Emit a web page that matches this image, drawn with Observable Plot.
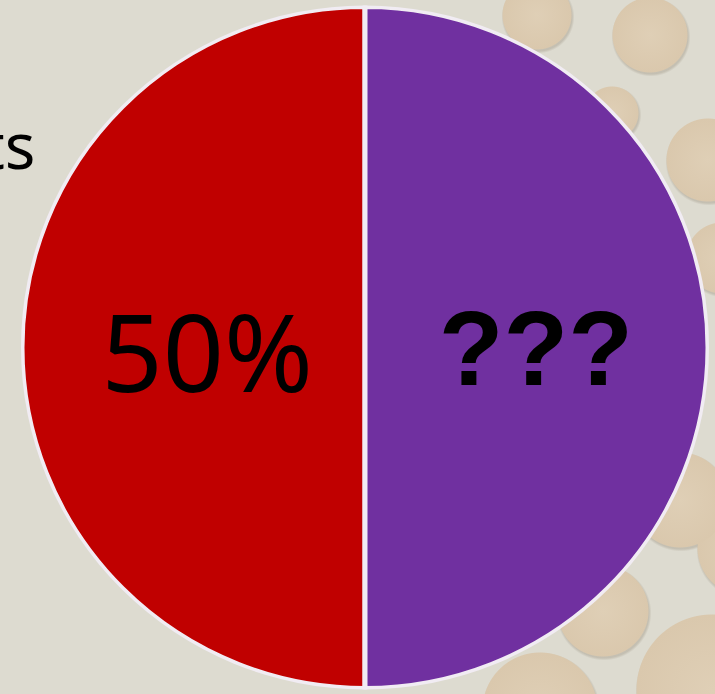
<!DOCTYPE html>
<html>
<head>
<meta charset="utf-8">
<script src="https://cdn.jsdelivr.net/npm/d3@7"></script>
<script src="https://cdn.jsdelivr.net/npm/@observablehq/plot@0.6"></script>
<style>
  html, body { margin: 0; padding: 0; }
  body { width: 715px; height: 694px; overflow: hidden; background-color: #DDDBD0; position: relative; }
  #bg { position: absolute; left: 0; top: 0; width: 715px; height: 694px; }
  #chart { position: absolute; left: 0; top: 0; }
</style>
</head>
<body>
<div id="bg"></div>
<div id="chart"></div>
<script>
// ---- data ----
const categories = ["50%", "???"];
const values = [50, 50];
const colors = ["#C00000", "#7030A0"];
const sideText = ["ts"];

// ---- decorative slide background (bubbles) ----
const bubbles = [
  [537, 15, 35], [650, 35, 38], [612, 113, 27], [708, 160, 42], [722, 258, 36],
  [680, 500, 48], [745, 548, 48], [603, 611, 46], [712, 690, 76], [540, 710, 58]
];
const layers = [];
for (const [cx, cy, r] of bubbles) {
  layers.push(`radial-gradient(circle ${r}px at ${cx}px ${cy}px, #DFCFB6 0px, #DAC8AD ${r - 1}px, transparent ${r}px)`);
}
for (const [cx, cy, r] of bubbles) {
  layers.push(`radial-gradient(circle ${r + 1.5}px at ${cx + 1}px ${cy + 2}px, rgba(150,140,122,0.35) ${r - 1}px, transparent ${r + 1.5}px)`);
}
document.getElementById("bg").style.backgroundImage = layers.join(",");

// ---- pie geometry from the data ----
const pie = d3.pie().sort(null).startAngle(Math.PI).endAngle(3 * Math.PI);
const slices = pie(values).map((a, i) => ({
  category: categories[i],
  color: colors[i],
  startAngle: a.startAngle,
  endAngle: a.endAngle,
  mid: (a.startAngle + a.endAngle) / 2
}));
const labelR = 0.485;

function pieMark(index, scales, values2, dimensions) {
  const x = scales.x, y = scales.y;
  const cx = x(0), cy = y(0);
  const rx = (x(1) - x(-1)) / 2;
  const ry = (y(-1) - y(1)) / 2;
  const g = d3.create("svg:g");
  const id = "pieclip" + Math.random().toString(36).slice(2);
  g.append("defs").append("clipPath").attr("id", id)
    .append("ellipse").attr("cx", 0).attr("cy", 0).attr("rx", rx + 1).attr("ry", rx + 1);
  const inner = g.append("g")
    .attr("transform", `translate(${cx},${cy}) scale(1,${ry / rx})`);
  const arc = d3.arc().innerRadius(0).outerRadius(rx);
  inner.append("g").attr("clip-path", `url(#${id})`)
    .selectAll("path").data(slices).join("path")
    .attr("d", d => arc(d))
    .attr("fill", d => d.color)
    .attr("stroke", "#F1ECF3")
    .attr("stroke-width", 5)
    .attr("stroke-linejoin", "round")
    .attr("vector-effect", "non-scaling-stroke");
  return g.node();
}

const chart = Plot.plot({
  width: 715,
  height: 694,
  margin: 0,
  style: { background: "transparent", overflow: "visible" },
  x: { domain: [-1, 1], range: [22, 708], axis: null },
  y: { domain: [-1, 1], range: [688.5, 6.5], axis: null },
  marks: [
    pieMark,
    Plot.text(slices.filter((d, i) => i === 0), {
      x: d => labelR * Math.sin(d.mid),
      y: d => labelR * Math.cos(d.mid),
      text: "category",
      fontSize: 107,
      fontFamily: "Noto Sans",
      fontWeight: "normal",
      fill: "#000",
      lineAnchor: "middle",
      dx: 8,
      dy: 10
    }),
    Plot.text(slices.filter((d, i) => i === 1), {
      x: d => labelR * Math.sin(d.mid),
      y: d => labelR * Math.cos(d.mid),
      text: "category",
      fontSize: 106,
      fontFamily: "Liberation Sans",
      fontWeight: "bold",
      fill: "#000",
      lineAnchor: "middle",
      dx: 4,
      dy: 3
    }),
    Plot.text(sideText, {
      frameAnchor: "top-left",
      text: d => d,
      dx: 35,
      dy: 168,
      textAnchor: "end",
      lineAnchor: "bottom",
      fontSize: 64,
      fontFamily: "Noto Sans",
      fill: "#000"
    })
  ]
});
document.getElementById("chart").appendChild(chart);
</script>
</body>
</html>
